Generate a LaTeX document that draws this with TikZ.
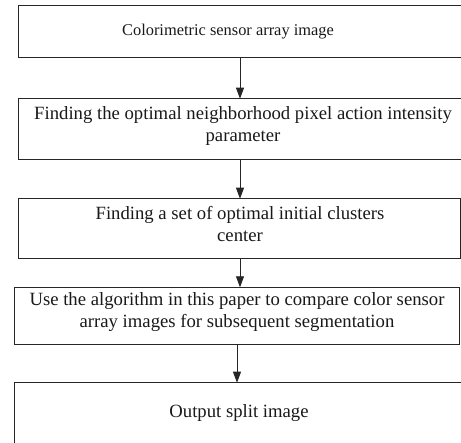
\documentclass[tikz,border=0pt]{standalone}
\usepackage{fontspec}
\setmainfont{Liberation Serif}
\usetikzlibrary{arrows.meta}
\begin{document}
\begin{tikzpicture}[x=1pt,y=-1pt,
  box/.style={draw=black!85, line width=0.9pt, rectangle, inner sep=0pt, outer sep=0pt},
  lbl/.style={align=center, font=\fontsize{18.7}{21.5}\selectfont, inner sep=0pt, text=black!90},
  arr/.style={draw=black!85, line width=0.9pt, -{Triangle[width=8pt,length=11pt]}}]
\useasboundingbox (0,0) rectangle (461,443);
\clip (0,0) rectangle (461,443);
\node[box, minimum width=456.3pt, minimum height=51.6pt] (b1) at (246.85,31.5) {};
\node[box, minimum width=456.3pt, minimum height=60.6pt] (b2) at (246.85,129) {};
\node[box, minimum width=441.6pt, minimum height=59.6pt] (b3) at (239.5,228.5) {};
\node[box, minimum width=445.2pt, minimum height=57pt] (b4) at (236.9,315.8) {};
\node[box, minimum width=460.7pt, minimum height=77.3pt] (b5) at (244.65,421.35) {};
\node[lbl, font=\fontsize{16.4}{20}\selectfont] (t1) at (228,32) {Colorimetric sensor array image};
\node[lbl] (t2) at (243,126) {Finding the optimal neighborhood pixel action intensity\\parameter};
\node[lbl] (t3) at (240,224) {Finding a set of optimal initial clusters\\center};
\node[lbl] (t4) at (237,312) {Use the algorithm in this paper to compare color sensor\\array images for subsequent segmentation};
\node[lbl] (t5) at (239,413) {Output split image};
\coordinate (a1) at (240,0);
\coordinate (a2) at (237,0);
\draw[arr] (b1.south -| a1) -- (b2.north -| a1);
\draw[arr] (b2.south -| a1) -- (b3.north -| a1);
\draw[arr] (b3.south -| a1) -- (b4.north -| a1);
\draw[arr] (b4.south -| a2) -- (b5.north -| a2);
\end{tikzpicture}
\end{document}
